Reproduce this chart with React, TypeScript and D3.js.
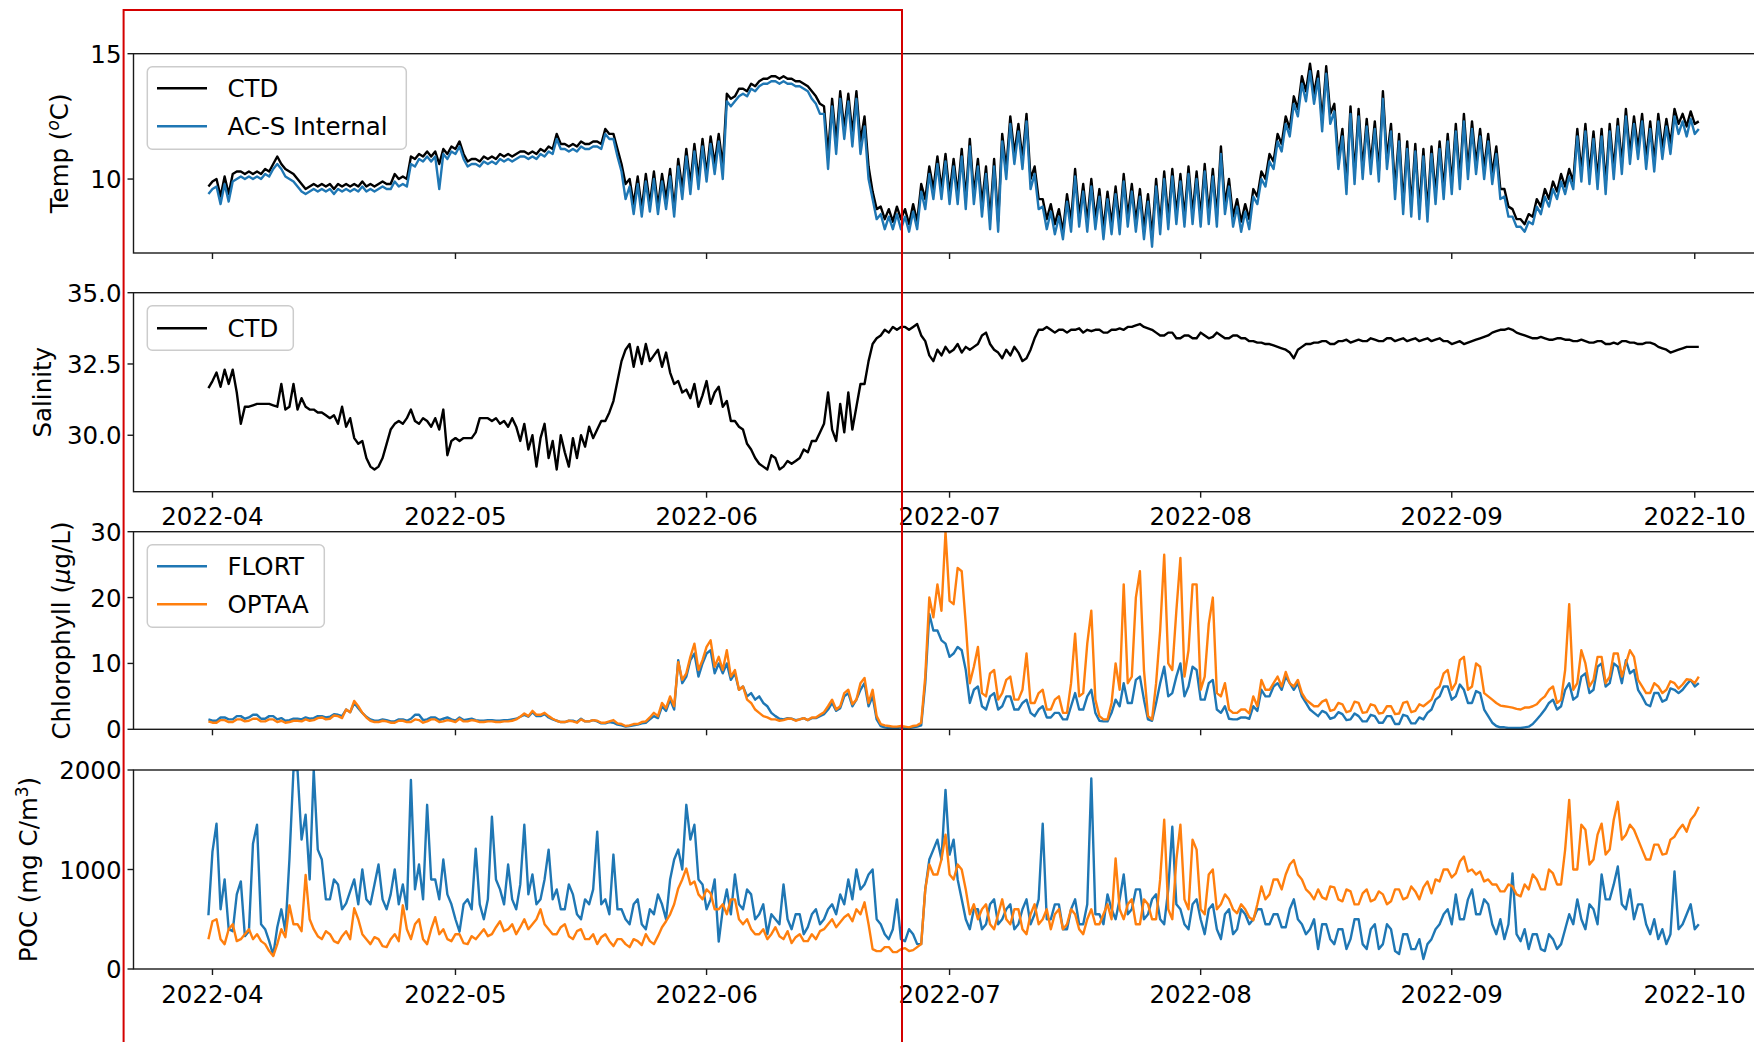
import { useMemo } from "react";
import * as d3 from "d3";

// samples every 12 h starting 2022-03-31 12:00 (one row = 5 days)
const START = new Date(2022, 2, 31, 12);
const STEP_HOURS = 12;

const tempCTD = [
  9.7, 9.9, 10.0, 9.3, 10.1, 9.4, 10.2, 10.3, 10.3, 10.2,
  10.3, 10.2, 10.3, 10.2, 10.4, 10.3, 10.6, 10.9, 10.6, 10.4,
  10.3, 10.2, 10.0, 9.8, 9.6, 9.7, 9.8, 9.7, 9.8, 9.7,
  9.8, 9.6, 9.8, 9.7, 9.8, 9.7, 9.8, 9.7, 9.9, 9.7,
  9.8, 9.7, 9.8, 9.9, 9.8, 9.8, 10.2, 10.0, 10.1, 10.0,
  10.9, 10.8, 11.0, 10.9, 11.1, 10.9, 11.1, 10.6, 11.2, 11.0,
  11.3, 11.2, 11.5, 11.0, 10.7, 10.8, 10.8, 10.7, 10.9, 10.8,
  10.9, 10.8, 11.0, 10.9, 11.0, 10.9, 11.0, 11.1, 11.1, 11.0,
  11.1, 11.0, 11.2, 11.1, 11.3, 11.2, 11.8, 11.4, 11.4, 11.3,
  11.4, 11.3, 11.5, 11.4, 11.4, 11.5, 11.5, 11.4, 12.0, 11.8,
  11.8, 11.2, 10.6, 9.8, 10.0, 9.0, 10.1, 8.8, 10.2, 9.0,
  10.3, 8.9, 10.2, 9.2, 10.4, 8.8, 10.8, 9.6, 11.2, 9.8,
  11.4, 10.0, 11.6, 10.2, 11.7, 10.6, 11.8, 10.5, 13.4, 13.2,
  13.3, 13.6, 13.6, 13.5, 13.8, 13.7, 13.9, 14.0, 14.0, 14.1,
  14.1, 14.0, 14.1, 14.0, 14.0, 13.9, 13.9, 13.8, 13.7, 13.5,
  13.3, 13.0, 12.9, 11.0, 13.2, 11.5, 13.5, 12.0, 13.4, 11.8,
  13.5, 11.5, 12.5, 10.5, 9.5, 8.8, 8.9, 8.4, 8.8, 8.3,
  8.9, 8.4, 8.8, 8.2, 9.0, 8.3, 9.8, 9.2, 10.5, 9.6,
  10.9, 9.6, 11.0, 9.4, 10.8, 9.4, 11.2, 9.2, 11.6, 9.4,
  10.8, 9.0, 10.5, 8.4, 10.8, 8.3, 11.8, 10.4, 12.5, 11.0,
  12.2, 10.8, 12.6, 10.0, 10.5, 9.2, 9.2, 8.4, 9.0, 8.2,
  8.8, 7.9, 9.4, 8.3, 10.4, 8.5, 9.8, 8.3, 10.0, 8.4,
  9.6, 8.0, 9.5, 8.2, 9.7, 8.2, 10.2, 8.5, 9.8, 8.3,
  9.6, 8.0, 9.4, 7.7, 10.0, 8.2, 10.3, 8.4, 10.4, 8.6,
  10.2, 8.5, 10.5, 8.6, 10.3, 8.5, 10.6, 8.6, 10.4, 8.5,
  11.3, 9.0, 10.0, 8.5, 9.2, 8.3, 9.0, 8.4, 9.6, 9.3,
  10.3, 10.0, 11.0, 10.7, 11.8, 11.4, 12.5, 12.0, 13.3, 12.8,
  14.1, 13.5, 14.6, 13.4, 14.3, 12.3, 14.5, 12.6, 13.0, 10.8,
  12.0, 9.8, 12.9, 10.2, 12.8, 10.4, 12.4, 10.6, 12.3, 10.3,
  13.5, 10.8, 12.2, 9.6, 11.8, 9.0, 11.5, 8.9, 11.4, 8.8,
  11.2, 8.7, 11.3, 9.4, 11.5, 9.6, 11.8, 9.8, 12.2, 10.0,
  12.6, 10.4, 12.3, 10.6, 12.0, 10.4, 11.8, 10.2, 11.3, 9.6,
  9.6, 8.9, 8.8, 8.4, 8.4, 8.2, 8.6, 8.5, 9.2, 8.9,
  9.6, 9.2, 9.9, 9.5, 10.2, 9.7, 10.4, 9.9, 12.0, 10.3,
  12.2, 10.2, 11.9, 10.0, 12.0, 9.8, 12.2, 10.4, 12.4, 10.6,
  12.8, 11.0, 12.5, 11.2, 12.6, 10.8, 12.3, 10.7, 12.6, 11.2,
  12.4, 11.4, 12.8, 12.2, 12.6, 12.1, 12.7, 12.2, 12.3,
];

const tempACS = [
  9.4, 9.6, 9.7, 9.0, 9.8, 9.1, 9.9, 10.0, 10.1, 10.0,
  10.1, 10.0, 10.1, 10.0, 10.2, 10.1, 10.4, 10.6, 10.4, 10.1,
  10.0, 9.9, 9.7, 9.5, 9.4, 9.5, 9.6, 9.5, 9.6, 9.5,
  9.6, 9.4, 9.6, 9.5, 9.6, 9.5, 9.6, 9.5, 9.7, 9.5,
  9.6, 9.5, 9.6, 9.7, 9.6, 9.6, 9.9, 9.7, 9.8, 9.7,
  10.6, 10.5, 10.8, 10.7, 10.9, 10.7, 10.9, 9.6, 11.0, 10.8,
  11.1, 11.0, 11.3, 10.8, 10.5, 10.6, 10.6, 10.5, 10.7, 10.6,
  10.7, 10.6, 10.8, 10.7, 10.8, 10.7, 10.8, 10.9, 10.9, 10.8,
  10.9, 10.8, 11.0, 10.9, 11.1, 11.0, 11.6, 11.2, 11.2, 11.1,
  11.2, 11.1, 11.3, 11.2, 11.2, 11.3, 11.3, 11.2, 11.8, 11.6,
  11.6, 10.9, 10.3, 9.2, 9.7, 8.6, 9.8, 8.5, 9.9, 8.7,
  10.0, 8.6, 9.9, 8.8, 10.1, 8.5, 10.5, 9.2, 10.9, 9.4,
  11.1, 9.6, 11.3, 9.9, 11.4, 10.2, 11.5, 10.0, 13.1, 12.9,
  13.1, 13.3, 13.4, 13.3, 13.6, 13.5, 13.7, 13.8, 13.8, 13.9,
  13.9, 13.8, 13.9, 13.8, 13.8, 13.7, 13.7, 13.6, 13.5, 13.2,
  13.0, 12.6, 12.6, 10.4, 12.9, 11.0, 13.2, 11.6, 13.1, 11.3,
  13.2, 11.0, 12.1, 10.0, 9.2, 8.4, 8.6, 8.0, 8.5, 8.0,
  8.6, 8.0, 8.5, 7.9, 8.7, 8.0, 9.5, 8.8, 10.2, 9.2,
  10.6, 9.2, 10.7, 9.0, 10.5, 9.0, 10.9, 8.8, 11.3, 9.0,
  10.5, 8.5, 10.2, 8.0, 10.5, 7.9, 11.5, 10.0, 12.2, 10.6,
  11.9, 10.4, 12.3, 9.6, 10.2, 8.8, 8.9, 8.0, 8.7, 7.8,
  8.5, 7.6, 9.1, 7.9, 10.1, 8.1, 9.5, 7.9, 9.7, 8.0,
  9.3, 7.6, 9.2, 7.8, 9.4, 7.8, 9.9, 8.1, 9.5, 7.9,
  9.3, 7.6, 9.1, 7.3, 9.7, 7.8, 10.0, 8.0, 10.1, 8.2,
  9.9, 8.1, 10.2, 8.2, 10.0, 8.1, 10.3, 8.2, 10.1, 8.1,
  11.0, 8.6, 9.7, 8.1, 8.9, 7.9, 8.7, 8.0, 9.3, 9.0,
  10.0, 9.7, 10.7, 10.4, 11.5, 11.1, 12.2, 11.7, 13.0, 12.5,
  13.8, 13.1, 14.3, 13.0, 14.0, 11.9, 14.2, 12.2, 12.7, 10.4,
  11.7, 9.4, 12.6, 9.8, 12.5, 10.0, 12.1, 10.2, 12.0, 9.9,
  13.2, 10.4, 11.9, 9.2, 11.5, 8.6, 11.2, 8.5, 11.1, 8.4,
  10.9, 8.3, 11.0, 9.0, 11.2, 9.2, 11.5, 9.4, 11.9, 9.6,
  12.3, 10.0, 12.0, 10.2, 11.7, 10.0, 11.5, 9.8, 11.0, 9.2,
  9.3, 8.5, 8.5, 8.1, 8.1, 7.9, 8.3, 8.2, 8.9, 8.6,
  9.3, 8.9, 9.6, 9.2, 9.9, 9.4, 10.1, 9.6, 11.7, 9.9,
  11.9, 9.8, 11.6, 9.6, 11.7, 9.4, 11.9, 10.0, 12.1, 10.2,
  12.5, 10.6, 12.2, 10.8, 12.3, 10.4, 12.0, 10.3, 12.3, 10.8,
  12.1, 11.0, 12.5, 11.8, 12.3, 11.7, 12.4, 11.8, 12.0,
];

const salinityCTD = [
  31.65, 31.9, 32.2, 31.7, 32.3, 31.8, 32.3, 31.5, 30.4, 31.0,
  31.0, 31.05, 31.1, 31.1, 31.1, 31.1, 31.05, 31.0, 31.8, 30.9,
  31.0, 31.8, 30.9, 31.3, 31.0, 30.9, 30.9, 30.8, 30.8, 30.7,
  30.6, 30.7, 30.4, 31.0, 30.3, 30.6, 29.9, 29.7, 29.8, 29.2,
  28.9, 28.8, 28.9, 29.2, 29.7, 30.2, 30.4, 30.5, 30.4, 30.6,
  30.9, 30.5, 30.4, 30.6, 30.5, 30.3, 30.6, 30.2, 30.9, 29.3,
  29.8, 29.9, 29.8, 29.9, 29.9, 29.9, 30.1, 30.6, 30.6, 30.6,
  30.5, 30.6, 30.4, 30.5, 30.3, 30.6, 30.3, 29.8, 30.4, 29.5,
  30.0, 28.9, 29.9, 30.4, 29.2, 29.8, 28.8, 30.0, 29.4, 28.9,
  29.9, 29.2, 30.0, 29.6, 30.3, 29.9, 30.2, 30.5, 30.5, 30.8,
  31.2, 31.9, 32.6, 33.0, 33.2, 32.4, 33.1, 32.5, 33.2, 32.6,
  32.8, 33.0, 32.4, 32.9, 32.2, 31.8, 31.9, 31.5, 31.6, 31.3,
  31.8, 31.0, 31.4, 31.9, 31.1, 31.5, 31.7, 31.0, 31.2, 30.5,
  30.5, 30.3, 30.2, 29.7, 29.5, 29.2, 29.0, 28.9, 28.8, 29.3,
  29.2, 28.8, 28.9, 29.1, 29.0, 29.1, 29.2, 29.5, 29.4, 29.8,
  29.8, 30.1, 30.4, 31.5, 30.2, 29.8, 31.1, 30.1, 31.5, 30.2,
  31.0, 31.8, 31.8, 32.6, 33.2, 33.4, 33.5, 33.7, 33.6, 33.8,
  33.7, 33.8, 33.8, 33.7, 33.8, 33.9, 33.5, 33.3, 32.8, 32.6,
  33.0, 32.8, 33.1, 32.9, 33.0, 33.2, 32.9, 33.1, 33.0, 33.1,
  33.2, 33.5, 33.6, 33.2, 33.0, 32.9, 32.7, 33.0, 32.8, 33.1,
  32.9, 32.6, 32.7, 33.0, 33.4, 33.7, 33.7, 33.8, 33.7, 33.6,
  33.7, 33.7, 33.6, 33.7, 33.7, 33.75, 33.6, 33.7, 33.65, 33.7,
  33.7, 33.6, 33.6, 33.7, 33.7, 33.75, 33.7, 33.8, 33.8, 33.85,
  33.9, 33.8, 33.75, 33.7, 33.6, 33.5, 33.5, 33.6, 33.6, 33.4,
  33.4, 33.5, 33.5, 33.4, 33.4, 33.6, 33.5, 33.4, 33.45, 33.6,
  33.5, 33.4, 33.4, 33.5, 33.5, 33.4, 33.4, 33.3, 33.3, 33.25,
  33.25, 33.2, 33.2, 33.15, 33.1, 33.05, 33.0, 32.9, 32.7, 33.0,
  33.1, 33.2, 33.2, 33.25, 33.25, 33.3, 33.3, 33.2, 33.2, 33.3,
  33.3, 33.35, 33.25, 33.3, 33.35, 33.3, 33.3, 33.4, 33.35, 33.3,
  33.3, 33.4, 33.4, 33.3, 33.35, 33.4, 33.3, 33.35, 33.4, 33.3,
  33.35, 33.4, 33.3, 33.35, 33.4, 33.3, 33.3, 33.2, 33.25, 33.3,
  33.2, 33.25, 33.3, 33.35, 33.4, 33.45, 33.5, 33.6, 33.65, 33.7,
  33.7, 33.75, 33.7, 33.6, 33.55, 33.5, 33.45, 33.4, 33.4, 33.45,
  33.4, 33.35, 33.35, 33.4, 33.4, 33.35, 33.35, 33.3, 33.3, 33.35,
  33.3, 33.25, 33.25, 33.3, 33.3, 33.2, 33.2, 33.25, 33.2, 33.3,
  33.3, 33.25, 33.25, 33.2, 33.2, 33.25, 33.25, 33.2, 33.1, 33.05,
  33.0, 32.9, 32.95, 33.0, 33.05, 33.1, 33.1, 33.1, 33.1,
];

const chlFLORT = [
  1.5, 1.3, 1.3, 1.8, 1.8, 1.5, 1.5, 2.0, 2.0, 1.6,
  1.8, 2.2, 2.2, 1.6, 1.6, 2.0, 2.0, 1.5, 1.7, 1.3,
  1.4, 1.6, 1.6, 1.5, 1.8, 1.6, 1.7, 2.0, 2.0, 1.8,
  1.9, 2.3, 2.2, 2.0, 3.0, 2.6, 4.0, 3.2, 2.5, 1.9,
  1.5, 1.3, 1.3, 1.5, 1.4, 1.2, 1.2, 1.5, 1.5, 1.3,
  1.6, 2.2, 2.2, 1.4, 1.5, 1.8, 1.8, 1.4, 1.6, 1.8,
  1.5, 1.3, 1.8, 1.4, 1.5, 1.6, 1.4, 1.3, 1.3, 1.4,
  1.4, 1.3, 1.3, 1.4, 1.4, 1.5, 1.6, 1.9, 2.2, 1.9,
  2.6, 2.0, 2.0, 2.3, 1.8, 1.5, 1.3, 1.1, 1.1, 1.3,
  1.3, 1.1, 1.6, 1.2, 1.2, 1.4, 1.2, 0.9, 0.9, 1.1,
  1.0, 0.7, 0.6, 0.4, 0.5, 0.6, 0.7, 0.9, 1.0, 1.5,
  2.0, 1.7, 3.5, 2.8, 4.5, 3.0, 10.5, 7.0, 8.0, 10.5,
  11.5, 8.0, 10.0, 11.5, 12.0, 8.5, 10.0, 8.5, 10.0, 7.5,
  8.5, 6.0, 6.5, 5.0, 5.5, 4.5, 5.0, 4.0, 3.5, 2.5,
  2.0, 1.6, 1.5, 1.7, 1.6, 1.4, 1.5, 1.7, 1.4, 1.7,
  1.7, 2.0, 2.3, 3.0, 4.0, 2.8, 3.2, 5.0, 5.5, 3.5,
  4.5, 6.0, 7.0, 3.5, 5.0, 1.5, 0.5, 0.3, 0.2, 0.2,
  0.2, 0.3, 0.2, 0.2, 0.3, 0.4, 0.6, 7.0, 17.5, 15.0,
  15.0, 13.5, 13.0, 11.0, 11.5, 12.5, 12.0, 9.0, 4.0, 6.0,
  6.5, 3.5, 3.0, 5.0, 5.5, 3.0, 3.5, 5.0, 5.0, 3.0,
  3.0, 4.0, 4.5, 2.5, 2.0, 3.0, 3.5, 1.8, 1.8, 2.5,
  2.5, 1.5, 1.5, 3.5, 5.5, 3.0, 3.0, 5.0, 6.0, 2.5,
  1.3, 1.2, 1.2, 2.5, 4.5, 3.5, 7.0, 4.0, 4.0, 7.5,
  8.0, 4.5, 1.5, 1.3, 4.0, 7.0, 9.5, 5.0, 5.5, 8.0,
  10.0, 5.0, 6.5, 9.5, 9.0, 4.5, 4.5, 7.0, 7.5, 3.0,
  2.5, 3.5, 1.6, 1.5, 1.5, 1.8, 1.8, 1.6, 3.5, 2.8,
  6.0, 5.0, 5.0, 6.5, 7.0, 6.0, 8.0, 7.0, 6.0, 7.0,
  5.0, 4.0, 3.0, 2.5, 2.0, 2.8, 2.5, 1.6, 1.8, 2.6,
  2.3, 1.4, 1.5, 2.4, 2.0, 1.2, 1.2, 2.2, 2.0, 1.0,
  1.0, 2.0, 2.0, 0.8, 0.8, 2.2, 2.0, 0.9, 0.9, 1.8,
  1.5, 2.5, 3.0, 4.5, 5.0, 6.5, 6.5, 4.5, 5.0, 6.8,
  6.0, 4.0, 4.0, 5.8, 5.5, 3.0, 2.0, 1.0, 0.5, 0.3,
  0.3, 0.2, 0.2, 0.2, 0.2, 0.3, 0.4, 0.8, 1.5, 2.2,
  3.0, 4.0, 4.5, 3.0, 3.5, 6.0, 7.0, 4.5, 5.0, 8.0,
  8.5, 5.5, 6.0, 9.5, 10.0, 6.5, 7.0, 10.0, 9.5, 7.0,
  10.5, 8.5, 9.0, 6.0, 5.0, 3.8, 3.5, 5.5, 5.5, 4.2,
  4.5, 6.2, 6.0, 5.5, 6.0, 6.8, 7.5, 6.5, 7.0,
];

const chlOPTAA = [
  1.2, 1.0, 1.0, 1.4, 1.4, 1.1, 1.1, 1.5, 1.5, 1.2,
  1.3, 1.6, 1.6, 1.2, 1.2, 1.5, 1.5, 1.1, 1.3, 1.0,
  1.1, 1.3, 1.3, 1.2, 1.5, 1.3, 1.4, 1.7, 1.8, 1.5,
  1.6, 2.1, 2.0, 1.7, 3.0, 2.6, 4.3, 3.5, 2.5, 1.8,
  1.3, 1.1, 1.1, 1.3, 1.2, 1.0, 1.0, 1.3, 1.3, 1.1,
  1.1, 1.5, 1.4, 1.0, 1.2, 1.5, 1.5, 1.1, 1.2, 1.4,
  1.3, 1.1, 1.6, 1.2, 1.2, 1.4, 1.3, 1.1, 1.1, 1.2,
  1.2, 1.1, 1.1, 1.2, 1.2, 1.3, 1.5, 1.9, 2.4, 2.0,
  2.8, 2.2, 2.2, 2.5, 2.0, 1.6, 1.3, 1.1, 1.1, 1.3,
  1.2, 1.0, 1.5, 1.2, 1.2, 1.4, 1.3, 1.0, 1.0, 1.2,
  1.4, 0.9, 0.8, 0.5, 0.6, 0.8, 0.8, 1.1, 1.2, 1.8,
  2.5, 2.0, 4.0, 3.2, 5.0, 3.5, 10.2, 7.5, 8.5, 11.0,
  13.0, 9.0, 10.5, 12.5, 13.5, 9.5, 11.0, 9.0, 12.0, 8.0,
  9.0, 6.0, 6.5, 4.5, 4.0, 3.0, 2.5, 2.0, 1.8, 1.5,
  1.5, 1.3, 1.4, 1.6, 1.6, 1.3, 1.5, 1.7, 1.4, 1.8,
  1.8, 2.2, 2.6, 3.5, 4.5, 3.0, 3.5, 5.5, 6.0, 3.8,
  4.5, 7.0, 7.8, 4.0, 6.0, 2.0, 0.8, 0.6, 0.5, 0.4,
  0.4, 0.5, 0.4, 0.3, 0.5, 0.6, 1.0, 8.0, 20.0, 17.0,
  22.0, 18.0, 30.0, 19.5, 19.0, 24.5, 24.0, 16.0, 7.0, 9.5,
  12.5, 5.5, 5.0, 8.5, 9.0, 4.5, 5.5, 7.5, 8.0, 4.5,
  4.5, 6.0, 11.5, 4.0, 4.0, 5.5, 6.0, 3.0, 3.0, 4.5,
  5.0, 2.5, 2.5, 7.0, 14.5, 5.0, 5.5, 13.0, 18.0, 4.5,
  2.0, 1.5, 1.5, 4.0, 10.0, 6.0, 22.0, 7.0, 8.0, 20.0,
  24.0, 9.0, 2.0, 1.5, 7.0, 15.0, 26.5, 10.0, 9.0, 18.0,
  26.0, 8.0, 12.0, 22.0, 22.0, 6.0, 8.0, 16.0, 20.0, 5.5,
  5.0, 7.0, 3.0, 2.5, 2.5, 3.0, 3.0, 2.4, 5.0, 3.5,
  7.5, 6.0, 6.0, 7.0, 8.0, 6.5, 8.7, 7.0, 6.5, 7.5,
  5.5, 4.5, 4.0, 3.5, 3.5, 4.2, 4.5, 2.8, 3.0, 4.0,
  3.8, 2.6, 2.8, 4.2, 4.0, 2.5, 2.6, 3.8, 3.6, 2.4,
  2.5, 3.5, 3.5, 2.3, 2.4, 4.0, 4.2, 2.6, 2.8, 3.8,
  3.5, 4.0, 4.5, 6.0, 6.5, 8.5, 9.0, 6.0, 7.0, 10.5,
  11.0, 6.0, 6.5, 10.0, 9.5, 5.5, 5.0, 4.5, 4.0, 3.6,
  3.5, 3.4, 3.3, 3.1, 3.0, 3.3, 3.3, 3.5, 3.8, 4.5,
  5.0, 6.0, 6.5, 4.0, 4.5, 9.0, 19.0, 6.0, 7.0, 12.0,
  10.0, 6.5, 7.5, 11.0, 11.0, 7.0, 8.0, 11.5, 11.5, 8.0,
  10.0, 12.0, 11.0, 7.5, 6.5, 5.5, 5.5, 7.0, 6.5, 5.5,
  6.0, 7.3, 7.0, 6.2, 6.8, 7.6, 7.5, 7.0, 8.0,
];

const pocFLORT = [
  540, 1180, 1460, 600, 900, 400, 380, 750, 880, 330,
  380, 1260, 1450, 450, 400, 280, 140, 420, 600, 380,
  1100, 2000, 2000, 1300, 1550, 900, 2000, 1200, 1100, 700,
  700, 900, 850, 600, 660, 780, 900, 650, 1000, 700,
  650, 850, 1050, 700, 600, 750, 1000, 650, 850, 600,
  1900, 800, 1050, 700, 1650, 900, 900, 700, 1100, 750,
  650, 500, 375, 650, 700, 600, 1210, 650, 500, 700,
  1530, 900, 800, 650, 1050, 700, 600, 850, 1450, 750,
  950, 650, 700, 900, 1200, 700, 800, 600, 600, 850,
  750, 550, 500, 700, 650, 800, 1380, 650, 700, 550,
  1150, 600, 600, 500, 450, 650, 700, 450, 400, 600,
  550, 750, 650, 500, 900, 1100, 1200, 1000, 1650, 1300,
  1450, 900, 850, 600, 700, 900, 275, 600, 800, 550,
  950, 650, 600, 800, 750, 500, 550, 650, 350, 550,
  500, 450, 850, 500, 400, 550, 550, 350, 420, 550,
  600, 450, 500, 600, 650, 550, 750, 650, 900, 700,
  1000, 800, 850, 950, 1000, 500, 450, 350, 300, 400,
  700, 300, 280, 400, 350, 250, 250, 800, 1100, 1200,
  1300, 1100, 1800, 1150, 1300, 900, 700, 500, 400, 600,
  600, 400, 450, 650, 700, 450, 500, 600, 650, 400,
  450, 600, 700, 450, 550, 700, 1460, 500, 500, 650,
  650, 400, 400, 600, 700, 450, 450, 650, 1915, 550,
  550, 450, 750, 600, 500, 700, 950, 550, 600, 800,
  800, 500, 550, 700, 750, 500, 450, 800, 1430, 650,
  600, 450, 400, 650, 700, 500, 350, 600, 650, 400,
  300, 550, 600, 350, 400, 600, 550, 450, 500, 600,
  600, 450, 450, 550, 550, 420, 420, 600, 700, 500,
  450, 350, 400, 500, 200, 450, 450, 300, 250, 400,
  400, 200, 300, 500, 500, 250, 200, 400, 450, 200,
  250, 450, 400, 180, 150, 350, 350, 200, 200, 300,
  100, 250, 300, 400, 450, 550, 600, 450, 750, 500,
  500, 700, 800, 550, 550, 700, 650, 450, 350, 500,
  300, 450, 960, 350, 280, 400, 200, 350, 350, 200,
  180, 350, 300, 200, 250, 400, 550, 450, 700, 500,
  400, 650, 600, 450, 950, 700, 700, 850, 1030, 650,
  600, 800, 500, 650, 650, 450, 350, 500, 300, 400,
  250, 350, 980, 400, 450, 550, 650, 400, 450,
];

const pocOPTAA = [
  300, 480, 500, 300, 250, 400, 450, 280, 300, 350,
  400, 300, 350, 280, 250, 180, 130, 250, 400, 320,
  640, 450, 450, 380, 945, 500, 400, 330, 300, 380,
  350, 280, 260, 330, 380, 300, 610, 500, 350, 300,
  250, 320, 300, 230, 220, 300, 350, 280, 640, 400,
  300, 450, 500, 300, 250, 400, 520, 350, 400, 300,
  280, 350, 350, 260, 250, 330, 300, 350, 400, 330,
  350, 420, 480, 380, 400, 450, 350, 420, 500, 400,
  450, 500, 600, 450, 400, 350, 350, 420, 450, 330,
  300, 380, 400, 300, 300, 350, 250, 320, 350, 280,
  230, 300, 300, 250, 220, 300, 280, 240, 350, 280,
  250, 330, 420, 480, 550, 650, 810, 900, 1010, 850,
  880, 750, 700, 800, 760, 600, 600, 650, 550, 700,
  700, 500, 450, 500, 400, 350, 350, 400, 300, 350,
  420, 330, 300, 380, 260, 320, 350, 280, 280, 350,
  300, 380, 400, 450, 500, 420, 470, 520, 550, 480,
  600, 550, 670, 450, 200, 180, 180, 220, 220, 170,
  170, 200, 210, 180, 190, 220, 250, 800, 1050, 950,
  950, 1100, 1350, 950, 900, 1050, 1000, 800, 550, 650,
  500, 600, 650, 450, 400, 550, 700, 500, 450, 600,
  600, 400, 350, 550, 650, 450, 500, 600, 400, 550,
  600, 400, 450, 600, 550, 400, 350, 500, 600, 450,
  450, 550, 650, 500, 1110, 600, 500, 650, 700, 450,
  450, 700, 650, 500, 500, 900, 1500, 600, 500, 1100,
  1450, 700, 600, 1300, 1200, 600, 550, 950, 1000, 600,
  650, 750, 700, 600, 560, 650, 600, 520, 490, 650,
  830, 700, 750, 900, 900, 800, 950, 1050, 1095, 950,
  900, 800, 760, 700, 800, 720, 700, 830, 820, 700,
  680, 800, 780, 650, 650, 760, 800, 680, 700, 780,
  750, 650, 680, 800, 800, 700, 720, 830, 780, 700,
  820, 880, 760, 900, 880, 1000, 1000, 920, 960, 1080,
  1130, 980, 1000, 950, 980, 880, 900, 850, 850, 780,
  780, 850, 830, 750, 730, 850, 800, 950, 900, 800,
  800, 1000, 960, 850, 850, 1200, 1700, 1000, 1000, 1450,
  1400, 1050, 1100, 1350, 1460, 1150, 1200, 1500, 1680, 1300,
  1350, 1450, 1400, 1300, 1200, 1100, 1100, 1250, 1250, 1150,
  1160, 1300, 1330, 1400, 1450, 1380, 1500, 1550, 1630,
];

const tempTicks = [10, 15];
const salinityTicks = [30.0, 32.5, 35.0];
const chlTicks = [0, 10, 20, 30];
const pocTicks = [0, 1000, 2000];

const W = 1754;
const H = 1042;
const AX_LEFT = 133.5;
const AX_RIGHT = 1769; // figure is cropped on the right
const FONT = "'DejaVu Sans', Verdana, sans-serif";
const FS = 24.5;
const BLUE = "#1f77b4";
const ORANGE = "#ff7f0e";

const x = d3
  .scaleTime()
  .domain([new Date(2022, 2, 22, 6), new Date(2022, 9, 10, 4)])
  .range([AX_LEFT, AX_RIGHT]);

const monthTicks = d3.timeMonth.range(new Date(2022, 3, 1), new Date(2022, 9, 2));
const fmtMonth = d3.timeFormat("%Y-%m");

interface Series {
  values: number[];
  color: string;
  label: string;
}

interface Panel {
  id: string;
  top: number;
  bottom: number;
  domain: [number, number];
  ticks: number[];
  fmt: (v: number) => string;
  series: Series[];
  legendW: number;
  xLabels: boolean;
  labelX: number;
  label: JSX.Element;
}

const panels: Panel[] = [
  {
    id: "temp",
    top: 53.7,
    bottom: 253,
    domain: [7.05, 15],
    ticks: tempTicks,
    fmt: (v) => String(v),
    series: [
      { values: tempCTD, color: "#000000", label: "CTD" },
      { values: tempACS, color: BLUE, label: "AC-S Internal" },
    ],
    legendW: 259,
    xLabels: false,
    labelX: 59.5,
    label: (
      <>
        <tspan>Temp (</tspan>
        <tspan dy={-9} fontSize={17} fontStyle="italic">o</tspan>
        <tspan dy={9}>C)</tspan>
      </>
    ),
  },
  {
    id: "sal",
    top: 292.7,
    bottom: 491.7,
    domain: [28.02, 35],
    ticks: salinityTicks,
    fmt: d3.format(".1f"),
    series: [{ values: salinityCTD, color: "#000000", label: "CTD" }],
    legendW: 146,
    xLabels: true,
    labelX: 42,
    label: <tspan>Salinity</tspan>,
  },
  {
    id: "chl",
    top: 531.7,
    bottom: 729.3,
    domain: [0, 30],
    ticks: chlTicks,
    fmt: (v) => String(v),
    series: [
      { values: chlFLORT, color: BLUE, label: "FLORT" },
      { values: chlOPTAA, color: ORANGE, label: "OPTAA" },
    ],
    legendW: 177,
    xLabels: false,
    labelX: 61,
    label: (
      <>
        <tspan>Chlorophyll (</tspan>
        <tspan fontStyle="italic">μ</tspan>
        <tspan>g/L)</tspan>
      </>
    ),
  },
  {
    id: "poc",
    top: 770,
    bottom: 969,
    domain: [0, 2000],
    ticks: pocTicks,
    fmt: (v) => String(v),
    series: [
      { values: pocFLORT, color: BLUE, label: "FLORT" },
      { values: pocOPTAA, color: ORANGE, label: "OPTAA" },
    ],
    legendW: 0,
    xLabels: true,
    labelX: 28.5,
    label: (
      <>
        <tspan>POC (mg C/m</tspan>
        <tspan dy={-9} fontSize={17}>3</tspan>
        <tspan dy={9}>)</tspan>
      </>
    ),
  },
];

function PanelView({ p }: { p: Panel }) {
  const y = useMemo(
    () => d3.scaleLinear().domain(p.domain).range([p.bottom, p.top]),
    [p]
  );

  const paths = useMemo(
    () =>
      p.series.map((s) => {
        const line = d3
          .line<number>()
          .x((_, i) => x(d3.timeHour.offset(START, i * STEP_HOURS)))
          .y((v) => y(v));
        return line(s.values) || "";
      }),
    [p, y]
  );

  const cy = (p.top + p.bottom) / 2;
  const legendTop = p.top + 13;
  const rowH = 38;
  const legendH = 44.5 + (p.series.length - 1) * rowH;

  return (
    <g>
      <defs>
        <clipPath id={`clip-${p.id}`}>
          <rect x={AX_LEFT} y={p.top} width={AX_RIGHT - AX_LEFT} height={p.bottom - p.top} />
        </clipPath>
      </defs>

      <g clipPath={`url(#clip-${p.id})`}>
        {p.series.map((s, i) => (
          <path
            key={s.label}
            d={paths[i]}
            fill="none"
            stroke={s.color}
            strokeWidth={2.4}
            strokeLinejoin="round"
          />
        ))}
      </g>

      {/* frame */}
      <rect
        x={AX_LEFT}
        y={p.top}
        width={AX_RIGHT - AX_LEFT}
        height={p.bottom - p.top}
        fill="none"
        stroke="#1a1a1a"
        strokeWidth={1.4}
      />

      {/* y ticks */}
      {p.ticks.map((t) => (
        <g key={t}>
          <line x1={AX_LEFT - 6} x2={AX_LEFT} y1={y(t)} y2={y(t)} stroke="#1a1a1a" strokeWidth={1.4} />
          <text
            x={AX_LEFT - 12}
            y={y(t) + 9}
            textAnchor="end"
            fontSize={FS}
            fontFamily={FONT}
            fill="#000"
          >
            {p.fmt(t)}
          </text>
        </g>
      ))}

      {/* x ticks */}
      {monthTicks.map((m) => (
        <g key={m.getTime()}>
          <line x1={x(m)} x2={x(m)} y1={p.bottom} y2={p.bottom + 6} stroke="#1a1a1a" strokeWidth={1.4} />
          {p.xLabels && (
            <text
              x={x(m)}
              y={p.bottom + 33.5}
              textAnchor="middle"
              fontSize={FS}
              fontFamily={FONT}
              fill="#000"
            >
              {fmtMonth(m)}
            </text>
          )}
        </g>
      ))}

      {/* y label */}
      <text
        transform={`translate(${p.labelX},${cy}) rotate(-90)`}
        textAnchor="middle"
        dy="0.35em"
        fontSize={FS}
        fontFamily={FONT}
        fill="#000"
      >
        {p.label}
      </text>

      {/* legend */}
      {p.legendW > 0 && (
        <g>
          <rect
            x={147.3}
            y={legendTop}
            width={p.legendW}
            height={legendH}
            rx={5}
            fill="#fff"
            fillOpacity={0.8}
            stroke="#cccccc"
            strokeWidth={1.5}
          />
          {p.series.map((s, i) => {
            const ry = legendTop + 21.5 + i * rowH + (p.series.length === 1 ? 1 : 0);
            return (
              <g key={s.label}>
                <line x1={157} x2={207} y1={ry} y2={ry} stroke={s.color} strokeWidth={2.5} />
                <text x={227.5} y={ry + 9} fontSize={FS} fontFamily={FONT} fill="#000">
                  {s.label}
                </text>
              </g>
            );
          })}
        </g>
      )}
    </g>
  );
}

export default function App() {
  return (
    <div style={{ position: "absolute", left: 0, top: 0, width: W, height: H, background: "#fff" }}>
      <svg width={W} height={H} viewBox={`0 0 ${W} ${H}`} style={{ display: "block" }}>
        <rect x={0} y={0} width={W} height={H} fill="#fff" />
        {panels.map((p) => (
          <PanelView key={p.id} p={p} />
        ))}
        {/* red highlight box */}
        <rect x={123.6} y={10} width={902 - 123.6} height={H + 20} fill="none" stroke="#d40000" strokeWidth={2} />
      </svg>
    </div>
  );
}
